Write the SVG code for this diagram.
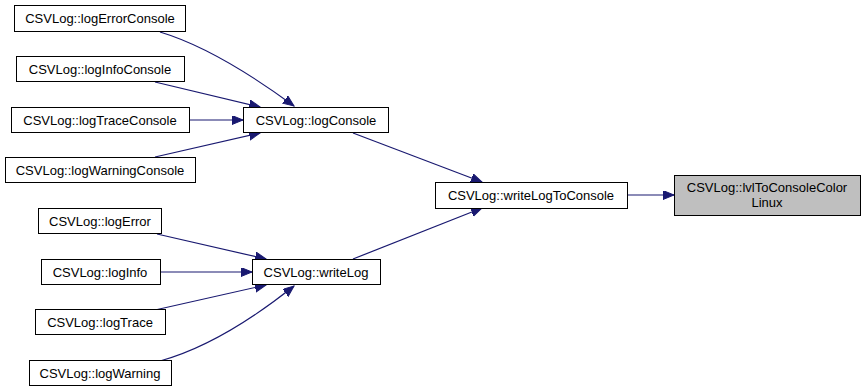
<svg xmlns="http://www.w3.org/2000/svg" width="865" height="392" viewBox="0 0 865 392">
<style>
.n rect{fill:#fff;stroke:#000;stroke-width:1}
.n text{font-family:"Liberation Sans",Arial,sans-serif;font-size:13px;text-anchor:middle;fill:#000}
.e path{fill:none;stroke:#191970;stroke-width:1.2}
</style>
<defs>
<marker id="ah" markerUnits="userSpaceOnUse" markerWidth="12" markerHeight="10" refX="11" refY="4.5" orient="auto">
<polygon points="0,0 11,4.5 0,9" fill="#191970" stroke="#191970"/>
</marker>
</defs>
<rect width="865" height="392" fill="#fff"/>
<g id="edges" class="e">
<path d="M160,32 C200,44 245,70 294,106" marker-end="url(#ah)"/>
<path d="M155,82 L260,107" marker-end="url(#ah)"/>
<path d="M189,120 L243,120" marker-end="url(#ah)"/>
<path d="M155,157 L260,133" marker-end="url(#ah)"/>
<path d="M353,133 L482,182" marker-end="url(#ah)"/>
<path d="M353,259 L482,208" marker-end="url(#ah)"/>
<path d="M627,195 L674,195" marker-end="url(#ah)"/>
<path d="M157,234 L266,259" marker-end="url(#ah)"/>
<path d="M160,272 L252,272" marker-end="url(#ah)"/>
<path d="M155,310 L266,285" marker-end="url(#ah)"/>
<path d="M160,361 C200,350 245,325 294,286" marker-end="url(#ah)"/>
</g>
<g id="logErrorConsole" class="n"><rect x="14.5" y="5.5" width="171" height="26"/><text x="100" y="23">CSVLog::logErrorConsole</text></g>
<g id="logInfoConsole" class="n"><rect x="16.5" y="56.5" width="168" height="25"/><text x="100" y="73.5">CSVLog::logInfoConsole</text></g>
<g id="logTraceConsole" class="n"><rect x="11.5" y="107.5" width="178" height="25"/><text x="100" y="124.5">CSVLog::logTraceConsole</text></g>
<g id="logWarningConsole" class="n"><rect x="5.5" y="157.5" width="190" height="25"/><text x="100" y="174.5">CSVLog::logWarningConsole</text></g>
<g id="logConsole" class="n"><rect x="243.5" y="107.5" width="145" height="25"/><text x="316" y="124.5">CSVLog::logConsole</text></g>
<g id="writeLogToConsole" class="n"><rect x="435.5" y="182.5" width="192" height="26"/><text x="531" y="200">CSVLog::writeLogToConsole</text></g>
<g id="lvlToConsoleColorLinux" class="n"><rect x="674.5" y="175.5" width="186" height="40" style="fill:#bfbfbf"/><text x="767" y="192">CSVLog::lvlToConsoleColor</text><text x="767" y="207">Linux</text></g>
<g id="logError" class="n"><rect x="38.5" y="208.5" width="123" height="25"/><text x="100" y="225.5">CSVLog::logError</text></g>
<g id="logInfo" class="n"><rect x="41.5" y="259.5" width="119" height="25"/><text x="100" y="276.5">CSVLog::logInfo</text></g>
<g id="writeLog" class="n"><rect x="252.5" y="259.5" width="128" height="25"/><text x="316" y="276.5">CSVLog::writeLog</text></g>
<g id="logTrace" class="n"><rect x="35.5" y="309.5" width="130" height="25"/><text x="100" y="326.5">CSVLog::logTrace</text></g>
<g id="logWarning" class="n"><rect x="29.5" y="360.5" width="142" height="25"/><text x="100" y="377.5">CSVLog::logWarning</text></g>
</svg>
